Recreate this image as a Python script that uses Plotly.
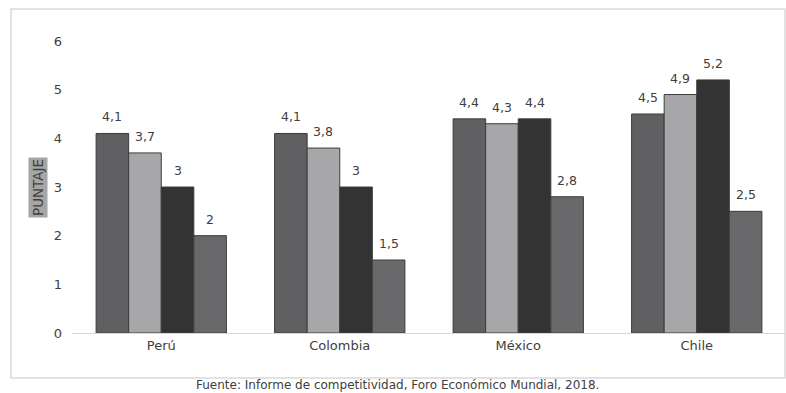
import plotly.graph_objects as go

categories = ["Perú", "Colombia", "México", "Chile"]
serie_1 = [4.1, 4.1, 4.4, 4.5]
serie_2 = [3.7, 3.8, 4.3, 4.9]
serie_3 = [3.0, 3.0, 4.4, 5.2]
serie_4 = [2.0, 1.5, 2.8, 2.5]
y_ticks = [0, 1, 2, 3, 4, 5, 6]

series = [serie_1, serie_2, serie_3, serie_4]
colors = ["#606062", "#a7a7a9", "#333333", "#69696b"]

FONT = "DejaVu Sans"
TXT = "#404040"
BARGAP = 0.27

W, H = 786, 393
L, R, T, B = 72, 0, 41, 60
PW, PH = W - L - R, H - T - B

fig = go.Figure()
for vals, col in zip(series, colors):
    fig.add_trace(go.Bar(
        x=categories, y=vals,
        marker=dict(color=col, line=dict(color="#3c3c3c", width=1)),
        showlegend=False,
    ))

# value labels placed above each bar
n = len(series)
bw = (1 - BARGAP) / n
annotations = []
for i, vals in enumerate(series):
    off = -(1 - BARGAP) / 2 + bw * (i + 0.5)
    for j, v in enumerate(vals):
        label = f"{v:g}".replace(".", ",")
        annotations.append(dict(
            x=j + off, y=v, xref="x", yref="y", text=label, showarrow=False,
            yanchor="bottom", yshift=7,
            font=dict(family=FONT, size=12.5, color=TXT)))

annotations += [
    dict(text="PUNTAJE", xref="paper", yref="paper", x=(38 - L) / PW, y=(H - B - 188) / PH,
         textangle=-90, showarrow=False, bgcolor="#a6a6a6", borderpad=1,
         xanchor="center", yanchor="middle",
         font=dict(family=FONT, size=13.5, color=TXT)),
    dict(text="Fuente: Informe de competitividad, Foro Económico Mundial, 2018.",
         xref="paper", yref="paper", x=(397 - L) / PW, y=-(385 - (H - B)) / PH,
         xanchor="center", yanchor="middle", showarrow=False,
         font=dict(family=FONT, size=12, color=TXT)),
]

fig.update_layout(
    width=W, height=H,
    margin=dict(l=L, r=R, t=T, b=B),
    paper_bgcolor="white", plot_bgcolor="white",
    barmode="group", bargap=BARGAP, bargroupgap=0,
    separators=", ", hovermode=False,
    font=dict(family=FONT, size=13, color=TXT),
    xaxis=dict(showline=True, linecolor="#d9d9d9", linewidth=1, ticks="",
               tickfont=dict(family=FONT, size=13, color=TXT)),
    yaxis=dict(range=[0, 6], tickvals=y_ticks, showgrid=False, zeroline=False,
               showline=False, ticks="", ticklabelstandoff=9,
               tickfont=dict(family=FONT, size=13, color=TXT)),
    shapes=[dict(type="rect", xref="paper", yref="paper",
                 x0=(11 - L) / PW, x1=(785 - L) / PW,
                 y0=-(378 - (H - B)) / PH, y1=1 + (T - 9) / PH,
                 line=dict(color="#d9d9d9", width=1.5), layer="below")],
    annotations=annotations,
)

fig.write_html("out.html",
               config={"displayModeBar": False},
               post_script="document.body.style.margin='0';document.body.style.overflow='hidden';")
